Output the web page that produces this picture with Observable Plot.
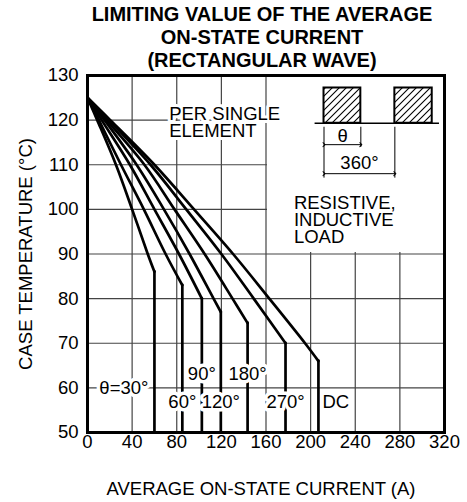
<!DOCTYPE html>
<html><head><meta charset="utf-8">
<script src="https://cdn.jsdelivr.net/npm/d3@7"></script>
<script src="https://cdn.jsdelivr.net/npm/@observablehq/plot@0.6"></script>
<style>body{margin:0;background:#fff} svg{display:block}</style>
</head><body><div id="chart"></div>
<script>
// ---- texts ----
const titleLines = ["LIMITING VALUE OF THE AVERAGE", "ON-STATE CURRENT", "(RECTANGULAR WAVE)"];
const xLabel = "AVERAGE ON-STATE CURRENT (A)";
const yLabel = "CASE TEMPERATURE (°C)";
const noteElement = "PER SINGLE\nELEMENT";
const noteLoad = "RESISTIVE,\nINDUCTIVE\nLOAD";

// ---- axes ----
const xTicks = [0, 40, 80, 120, 160, 200, 240, 280, 320];
const yTicks = [50, 60, 70, 80, 90, 100, 110, 120, 130];

// ---- series: [current (A), case temperature (°C)] ----
const conductionAngles = ["30°", "60°", "90°", "120°", "180°", "270°", "DC"];
const curve30  = [[0,125],[8.7,120],[25.5,110],[40,100],[54,90],[60,86]];
const curve60  = [[0,125],[10.2,120],[30,110],[50.5,100],[70,90],[85,83]];
const curve90  = [[0,125],[12.7,120],[38,110],[60,100],[82,90],[102.5,80]];
const curve120 = [[0,125],[15.3,120],[44,110],[68.5,100],[91.5,90],[113,80],[119.5,77]];
const curve180 = [[0,125],[17.2,120],[51,110],[78,100],[105,90],[130,80],[143.5,74.5]];
const curve270 = [[0,125],[19.2,120],[56.5,110],[88.5,100],[120,90],[149,80],[177.5,70]];
const curveDC  = [[0,125],[20.4,120],[60,110],[95.5,100],[130.5,90],[163,80],[195,70],[207,66]];
const curves = [curve30, curve60, curve90, curve120, curve180, curve270, curveDC];

// ---- curve labels ----
const curveLabelText = ["θ=30°", "60°", "90°", "120°", "180°", "270°", "DC"];
const curveLabelTemp = [60, 56.8, 63, 56.8, 63, 56.8, 56.8];

// ---- waveform inset (annotation, in axis units) ----
const pulseStart = [212, 275.5];
const pulseEnd = [245, 309];

const rows = curves.flatMap((c, i) => c.map(([I, T]) => ({angle: conductionAngles[i], I, T})));
const knees = curves.map((c, i) => ({angle: conductionAngles[i], I: c[c.length - 1][0], T: c[c.length - 1][1]}));
const labels = knees.map((k, i) => ({text: curveLabelText[i], I: k.I, T: curveLabelTemp[i]}));
const pulses = pulseStart.map((s, i) => ({x1: s, x2: pulseEnd[i]}));

const grid = {stroke: "#444", strokeOpacity: 1, strokeWidth: 1.2};
const halo = {stroke: "white", strokeWidth: 7, paintOrder: "stroke", fill: "black", strokeLinejoin: "round"};

const defs = () => {
  const d = d3.create("svg:defs");
  const p = d.append("pattern").attr("id", "hatch").attr("patternUnits", "userSpaceOnUse")
    .attr("width", 7).attr("height", 7);
  p.append("rect").attr("width", 7).attr("height", 7).attr("fill", "white");
  p.append("path").attr("d", "M-1,1 l2,-2 M0,7 l7,-7 M6,8 l2,-2")
    .attr("stroke", "black").attr("stroke-width", 1.1);
  return d.node();
};

const chart = Plot.plot({
  width: 467, height: 502,
  marginLeft: 87, marginRight: 23, marginTop: 75, marginBottom: 70,
  style: {fontFamily: "'Liberation Sans', Arial, sans-serif", fontSize: "18.5px", color: "black", background: "white"},
  x: {domain: [0, 320], ticks: xTicks, label: null},
  y: {domain: [50, 130], ticks: yTicks, label: null},
  marks: [
    defs,
    Plot.gridX(xTicks, grid),
    Plot.gridY(yTicks, grid),
    // blank panel carrying the waveform sketch and load note
    Plot.rect([{x1: 160, x2: 320, y1: 90, y2: 130}], {x1: "x1", x2: "x2", y1: "y1", y2: "y2", fill: "white", insetLeft: 1.5, insetBottom: 1.5}),
    Plot.axisX(xTicks, {tickSize: 0, tickPadding: 2, label: null}),
    Plot.axisY(yTicks, {tickSize: 0, tickPadding: 9, label: null}),
    Plot.line(rows, {x: "I", y: "T", z: "angle", curve: "catmull-rom", stroke: "black", strokeWidth: 2.7, strokeLinecap: "round", strokeLinejoin: "round"}),
    Plot.ruleX(knees, {x: "I", y1: "T", y2: 50, stroke: "black", strokeWidth: 2.7, strokeLinecap: "round"}),
    // curve labels
    Plot.text(labels.slice(1, 6), {x: "I", y: "T", text: "text", ...halo}),
    Plot.text(labels.slice(0, 1), {x: "I", y: "T", text: "text", textAnchor: "end", dx: -6, ...halo}),
    Plot.text(labels.slice(6), {x: "I", y: "T", text: "text", textAnchor: "start", dx: 4, ...halo}),
    // notes
    Plot.text([noteElement], {x: 73.2, y: 119.3, textAnchor: "start", lineHeight: 0.9, ...halo, strokeWidth: 6}),
    Plot.text([noteLoad], {x: 185, y: 97.4, textAnchor: "start", lineHeight: 0.92}),
    // waveform inset
    Plot.rect(pulses, {x1: "x1", x2: "x2", y1: 119.3, y2: 127.2, fill: "url(#hatch)", stroke: "black", strokeWidth: 2}),
    Plot.ruleY([119.3], {x1: 204, x2: 315.5, stroke: "black", strokeWidth: 1.5}),
    Plot.ruleX([212, 275.5], {y1: 118.4, y2: 107, stroke: "black", strokeWidth: 1}),
    Plot.ruleX([245], {y1: 118.4, y2: 113.9, stroke: "black", strokeWidth: 1}),
    Plot.link([0], {x1: 212, x2: 245, y1: 114.5, y2: 114.5, stroke: "black", strokeWidth: 1, markerStart: "arrow", markerEnd: "arrow"}),
    Plot.link([0], {x1: 212, x2: 275.5, y1: 108, y2: 108, stroke: "black", strokeWidth: 1, markerStart: "arrow", markerEnd: "arrow"}),
    Plot.text(["θ"], {x: 228.6, y: 116.5}),
    Plot.text(["360°"], {x: 243.8, y: 110.4}),
    Plot.frame({stroke: "black", strokeWidth: 3}),
    // titles
    Plot.text([titleLines.join("\n")], {frameAnchor: "top", dy: -9, dx: -4, lineAnchor: "bottom", lineHeight: 1.13, fontWeight: "bold", fontSize: 20}),
    Plot.text([xLabel], {frameAnchor: "bottom", dy: 62.5, dx: -5, lineAnchor: "bottom", textAnchor: "middle"}),
    Plot.text([yLabel], {frameAnchor: "left", rotate: -90, dx: -55.5, lineAnchor: "bottom", textAnchor: "middle"})
  ]
});
document.getElementById("chart").appendChild(chart);
</script>
</body></html>
